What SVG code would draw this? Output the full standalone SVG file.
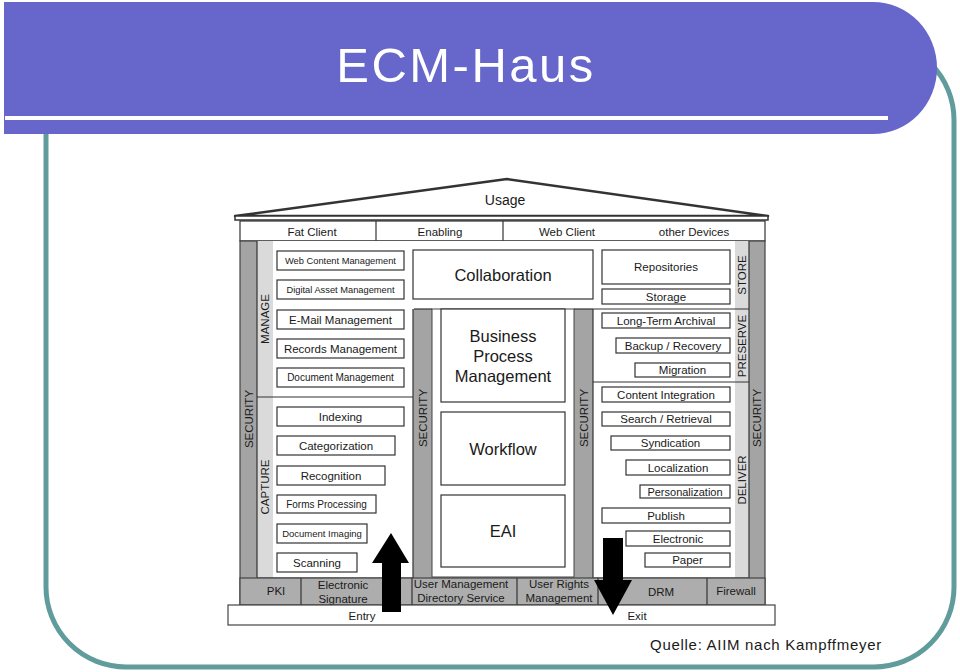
<svg xmlns="http://www.w3.org/2000/svg" width="960" height="672" viewBox="0 0 960 672">
<style>
.t{font-family:"Liberation Sans",Arial,sans-serif;fill:#1a1a1a;text-anchor:middle}
.box{fill:#fff;stroke:#333;stroke-width:1.2}
.dk{fill:#a4a4a4;stroke:#444;stroke-width:1}
.lt{fill:#dadada}
.ln{stroke:#333;stroke-width:1.2;fill:none}
.s9{font-size:9.3px}.s10{font-size:10px}.s11{font-size:11.5px}.s16{font-size:16.5px}
.v{font-size:11.5px}
</style>
<rect width="960" height="672" fill="#fff"/>
<g id="frame">
<rect x="46" y="40" width="908" height="627" rx="80" fill="none" stroke="#609c9c" stroke-width="5"/>
<path d="M4,2 H873 A64,66 0 0 1 873,134 H4 Z" fill="#6767cb"/>
<rect x="5" y="116" width="883" height="4" fill="#fff"/>
<text x="466" y="82" font-family="Liberation Sans,Arial,sans-serif" font-size="49" letter-spacing="2.5" fill="#fff" text-anchor="middle">ECM-Haus</text>
</g>
<g id="roof">
<polygon points="235,216 507,179 768,216" fill="#fff" stroke="#333" stroke-width="2.5" stroke-linejoin="round"/>
<rect x="235" y="216" width="533" height="4" fill="#fff" stroke="#333" stroke-width="1.5"/>
<text class="t" x="505" y="205" font-size="14">Usage</text>
</g>
<g id="clients">
<rect class="box" x="240" y="221" width="525" height="20"/>
<line class="ln" x1="376" y1="221" x2="376" y2="241"/>
<line class="ln" x1="503" y1="221" x2="503" y2="241"/>
<text class="t s11" x="312" y="235.5" font-size="12">Fat Client</text>
<text class="t s11" x="440" y="235.5">Enabling</text>
<text class="t s11" x="567" y="235.5">Web Client</text>
<text class="t s11" x="694" y="235.5">other Devices</text>
</g>
<g id="body">
<rect x="240" y="241" width="525" height="364" fill="#a4a4a4" stroke="#444" stroke-width="1.2"/>
<rect class="lt" x="257" y="241" width="16" height="337"/>
<rect class="lt" x="735" y="241" width="14" height="337"/>
<rect x="273" y="241" width="462" height="68" fill="#fff"/>
<rect x="273" y="241" width="140" height="337" fill="#fff"/>
<rect x="593" y="241" width="142" height="337" fill="#fff"/>
<rect x="432" y="309" width="142" height="268" fill="#fff" stroke="#444" stroke-width="1"/>
<line class="ln" x1="257" y1="578" x2="257" y2="241"/>
<line class="ln" x1="749" y1="578" x2="749" y2="241"/>
<line class="ln" x1="257" y1="578" x2="413" y2="578"/>
<line class="ln" x1="413" y1="578" x2="413" y2="309"/>
<line class="ln" x1="593" y1="578" x2="593" y2="309"/>
<line class="ln" x1="593" y1="578" x2="749" y2="578"/>
<line class="ln" x1="414" y1="309" x2="432" y2="309"/>
<line class="ln" x1="574" y1="309" x2="593" y2="309"/>
<line class="ln" x1="257" y1="397" x2="413" y2="397"/>
<line class="ln" x1="593" y1="309" x2="749" y2="309"/>
<line class="ln" x1="593" y1="382" x2="749" y2="382"/>
<text class="t v" transform="translate(252.5,419) rotate(-90)">SECURITY</text>
<text class="t v" transform="translate(269,319) rotate(-90)">MANAGE</text>
<text class="t v" transform="translate(269,487) rotate(-90)">CAPTURE</text>
<text class="t v" transform="translate(427,418) rotate(-90)">SECURITY</text>
<text class="t v" transform="translate(588,418) rotate(-90)">SECURITY</text>
<text class="t v" transform="translate(746,275) rotate(-90)">STORE</text>
<text class="t v" transform="translate(746,346) rotate(-90)">PRESERVE</text>
<text class="t v" transform="translate(746,480) rotate(-90)">DELIVER</text>
<text class="t v" transform="translate(761,418) rotate(-90)">SECURITY</text>
</g>
<g id="manage">
<g id="wcm"><rect class="box" x="277" y="251" width="127" height="19"/><text class="t s9" x="340.5" y="264">Web Content Management</text></g>
<g id="dam"><rect class="box" x="277" y="280" width="127" height="19"/><text class="t s9" x="340.5" y="293">Digital Asset Management</text></g>
<g id="email"><rect class="box" x="277" y="310" width="127" height="19"/><text class="t s11" x="340.5" y="323.5">E-Mail Management</text></g>
<g id="records"><rect class="box" x="277" y="339" width="127" height="19"/><text class="t s11" x="340.5" y="352.5">Records Management</text></g>
<g id="docmgmt"><rect class="box" x="277" y="368" width="127" height="19"/><text class="t s10" x="340.5" y="381">Document Management</text></g>
</g>
<g id="capture">
<g id="indexing"><rect class="box" x="277" y="407" width="127" height="19"/><text class="t s11" x="340.5" y="420.5">Indexing</text></g>
<g id="categorization"><rect class="box" x="277" y="436" width="118" height="19"/><text class="t s11" x="336" y="449.5">Categorization</text></g>
<g id="recognition"><rect class="box" x="277" y="466" width="108" height="19"/><text class="t s11" x="331" y="479.5">Recognition</text></g>
<g id="forms"><rect class="box" x="277" y="495" width="99" height="18"/><text class="t s10" x="326.5" y="507.5">Forms Processing</text></g>
<g id="imaging"><rect class="box" x="277" y="524" width="90" height="19"/><text class="t" font-size="9.5" x="322" y="537">Document Imaging</text></g>
<g id="scanning"><rect class="box" x="277" y="553" width="80" height="19"/><text class="t s11" x="317" y="566.5">Scanning</text></g>
</g>
<g id="middle">
<g id="collaboration"><rect class="box" x="413" y="250" width="180" height="49"/><text class="t s16" x="503" y="280.5">Collaboration</text></g>
<g id="bpm"><rect class="box" x="441" y="309" width="124" height="93"/><text class="t s16" x="503" y="342">Business</text><text class="t s16" x="503" y="362">Process</text><text class="t s16" x="503" y="382">Management</text></g>
<g id="workflow"><rect class="box" x="441" y="412" width="124" height="73"/><text class="t s16" x="503" y="454.5">Workflow</text></g>
<g id="eai"><rect class="box" x="441" y="495" width="124" height="72"/><text class="t s16" x="503" y="537">EAI</text></g>
</g>
<g id="store">
<g id="repositories"><rect class="box" x="602" y="250" width="128" height="34"/><text class="t s11" x="666" y="271">Repositories</text></g>
<g id="storage"><rect class="box" x="602" y="289" width="128" height="15"/><text class="t s11" x="666" y="300.5">Storage</text></g>
</g>
<g id="preserve">
<g id="archival"><rect class="box" x="602" y="313" width="128" height="15"/><text class="t s11" x="666" y="324.5">Long-Term Archival</text></g>
<g id="backup"><rect class="box" x="616" y="338" width="114" height="15"/><text class="t s11" x="673" y="349.5">Backup / Recovery</text></g>
<g id="migration"><rect class="box" x="635" y="363" width="95" height="14"/><text class="t s11" x="682.5" y="374">Migration</text></g>
</g>
<g id="deliver">
<g id="contentint"><rect class="box" x="602" y="387" width="128" height="15"/><text class="t s11" x="666" y="398.5">Content Integration</text></g>
<g id="search"><rect class="box" x="602" y="412" width="128" height="14"/><text class="t s11" x="666" y="423">Search / Retrieval</text></g>
<g id="syndication"><rect class="box" x="611" y="436" width="119" height="14"/><text class="t s11" x="670.5" y="447">Syndication</text></g>
<g id="localization"><rect class="box" x="626" y="460" width="104" height="15"/><text class="t s11" x="678" y="471.5">Localization</text></g>
<g id="personalization"><rect class="box" x="640" y="485" width="90" height="13"/><text class="t" font-size="11" x="685" y="495.5">Personalization</text></g>
<g id="publish"><rect class="box" x="602" y="508" width="128" height="15"/><text class="t s11" x="666" y="519.5">Publish</text></g>
<g id="electronic"><rect class="box" x="626" y="531" width="104" height="15"/><text class="t s11" x="678" y="542.5">Electronic</text></g>
<g id="paper"><rect class="box" x="645" y="553" width="85" height="14"/><text class="t s11" x="687.5" y="564">Paper</text></g>
</g>
<g id="foundation">
<rect x="240" y="578" width="525" height="27" fill="#adadad" stroke="#444" stroke-width="1.2"/>
<line class="ln" x1="301" y1="578" x2="301" y2="605"/>
<line class="ln" x1="412" y1="578" x2="412" y2="605"/>
<line class="ln" x1="517" y1="578" x2="517" y2="605"/>
<line class="ln" x1="598" y1="578" x2="598" y2="605"/>
<line class="ln" x1="707" y1="578" x2="707" y2="605"/>
<text class="t s11" x="276" y="595">PKI</text>
<text class="t s11" x="343" y="589">Electronic</text>
<text class="t s11" x="343" y="603">Signature</text>
<text class="t s11" x="461" y="588">User Management</text>
<text class="t s11" x="461" y="602">Directory Service</text>
<text class="t s11" x="559" y="588">User Rights</text>
<text class="t s11" x="559" y="602">Management</text>
<text class="t s11" x="661" y="596">DRM</text>
<text class="t s11" x="736" y="595">Firewall</text>
<rect x="228" y="605" width="547" height="20" fill="#fff" stroke="#444" stroke-width="1.2"/>
<text class="t s11" x="362" y="620">Entry</text>
<text class="t s11" x="637" y="620">Exit</text>
</g>
<g id="connectors">
<polygon points="382,612 401,612 401,563 409,563 391,533 372,563 382,563" fill="#000"/>
<polygon points="603,538 623,538 623,580 632,580 613,615 594,580 603,580" fill="#000"/>
</g>
<text class="t" x="766" y="650" font-size="15" letter-spacing="0.7">Quelle: AIIM nach Kampffmeyer</text>
</svg>
